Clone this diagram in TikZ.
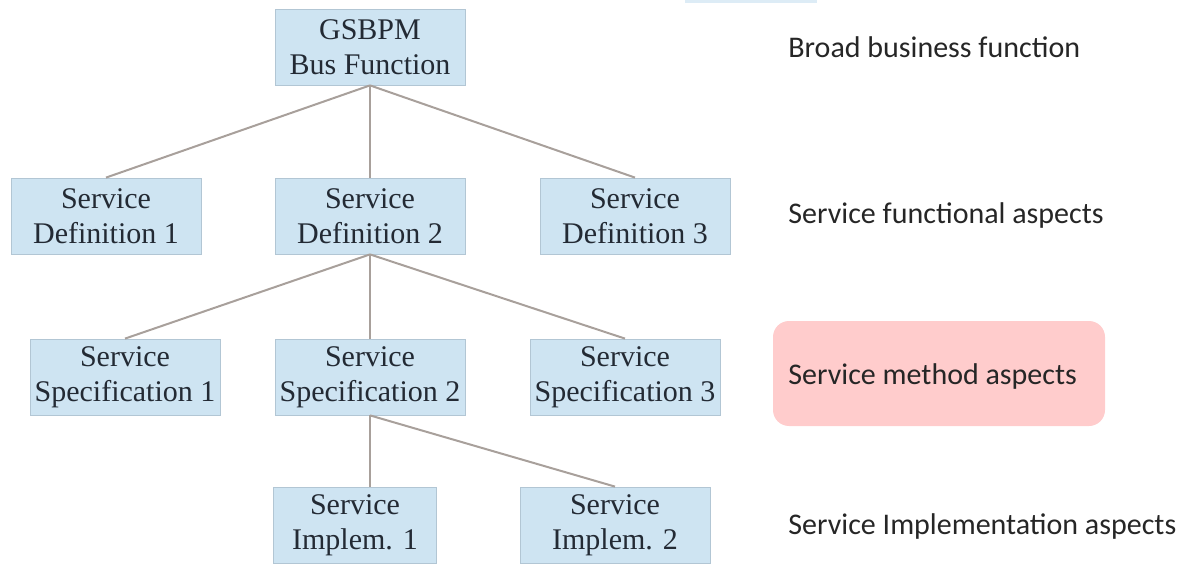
\documentclass[tikz,border=0pt]{standalone}
\usepackage{fontspec}
\setmainfont{Liberation Serif}
\newfontfamily\levelfont{Carlito}
\usepackage{xcolor}
\definecolor{boxblue}{RGB}{206,228,242}
\definecolor{boxedge}{RGB}{178,198,212}
\definecolor{linkgray}{RGB}{168,160,155}
\definecolor{pinkbg}{RGB}{255,204,204}
\definecolor{boxtext}{RGB}{35,42,52}

\begin{document}
\begin{tikzpicture}[x=0.5pt, y=-0.5pt,
  box/.style={rectangle, draw=boxedge, fill=boxblue, minimum width=95pt, minimum height=38pt, inner sep=0pt, align=center, text=boxtext, font=\fontsize{15}{17.5}\selectfont},
  level/.style={anchor=west, inner sep=0pt, text=black!85, font=\levelfont\fontsize{15}{18}\selectfont},
  link/.style={draw=linkgray, line width=1pt}]
\useasboundingbox (0,0) rectangle (1181,566);
\fill[boxblue!70] (685,0) rectangle (817,3);
\fill[pinkbg, rounded corners=8pt] (773,321) rectangle (1105,426);

% tree
\node (gsbpm) [box] at (370,47) {GSBPM\\Bus Function};
\node (def1) [box] at (106,216) {Service\\Definition 1};
\node (def2) [box] at (370,216) {Service\\Definition 2};
\node (def3) [box] at (635,216) {Service\\Definition 3};
\node (spec1) [box] at (125,377) {Service\\Specification 1};
\node (spec2) [box] at (370,377) {Service\\Specification 2};
\node (spec3) [box] at (625,377) {Service\\Specification 3};
\node (impl1) [box, minimum width=81.5pt] at (355,525) {Service\\Implem. 1};
\node (impl2) [box] at (615,525) {Service\\Implem. 2};

\draw[link] (gsbpm.south) -- (def1.north);
\draw[link] (gsbpm.south) -- (def2.north);
\draw[link] (gsbpm.south) -- (def3.north);
\draw[link] (def2.south) -- (spec1.north);
\draw[link] (def2.south) -- (spec2.north);
\draw[link] (def2.south) -- (spec3.north);
\draw[link] (spec2.south) -- (spec2.south |- impl1.north);
\draw[link] (spec2.south) -- (impl2.north);

% levels
\node (broad) [level] at (788,47) {Broad business function};
\node (functional) [level] at (788,216) {Service functional aspects};
\node (method) [level] at (788,377) {Service method aspects};
\node (implementation) [level] at (788,526) {Service Implementation aspects};
\end{tikzpicture}
\end{document}
